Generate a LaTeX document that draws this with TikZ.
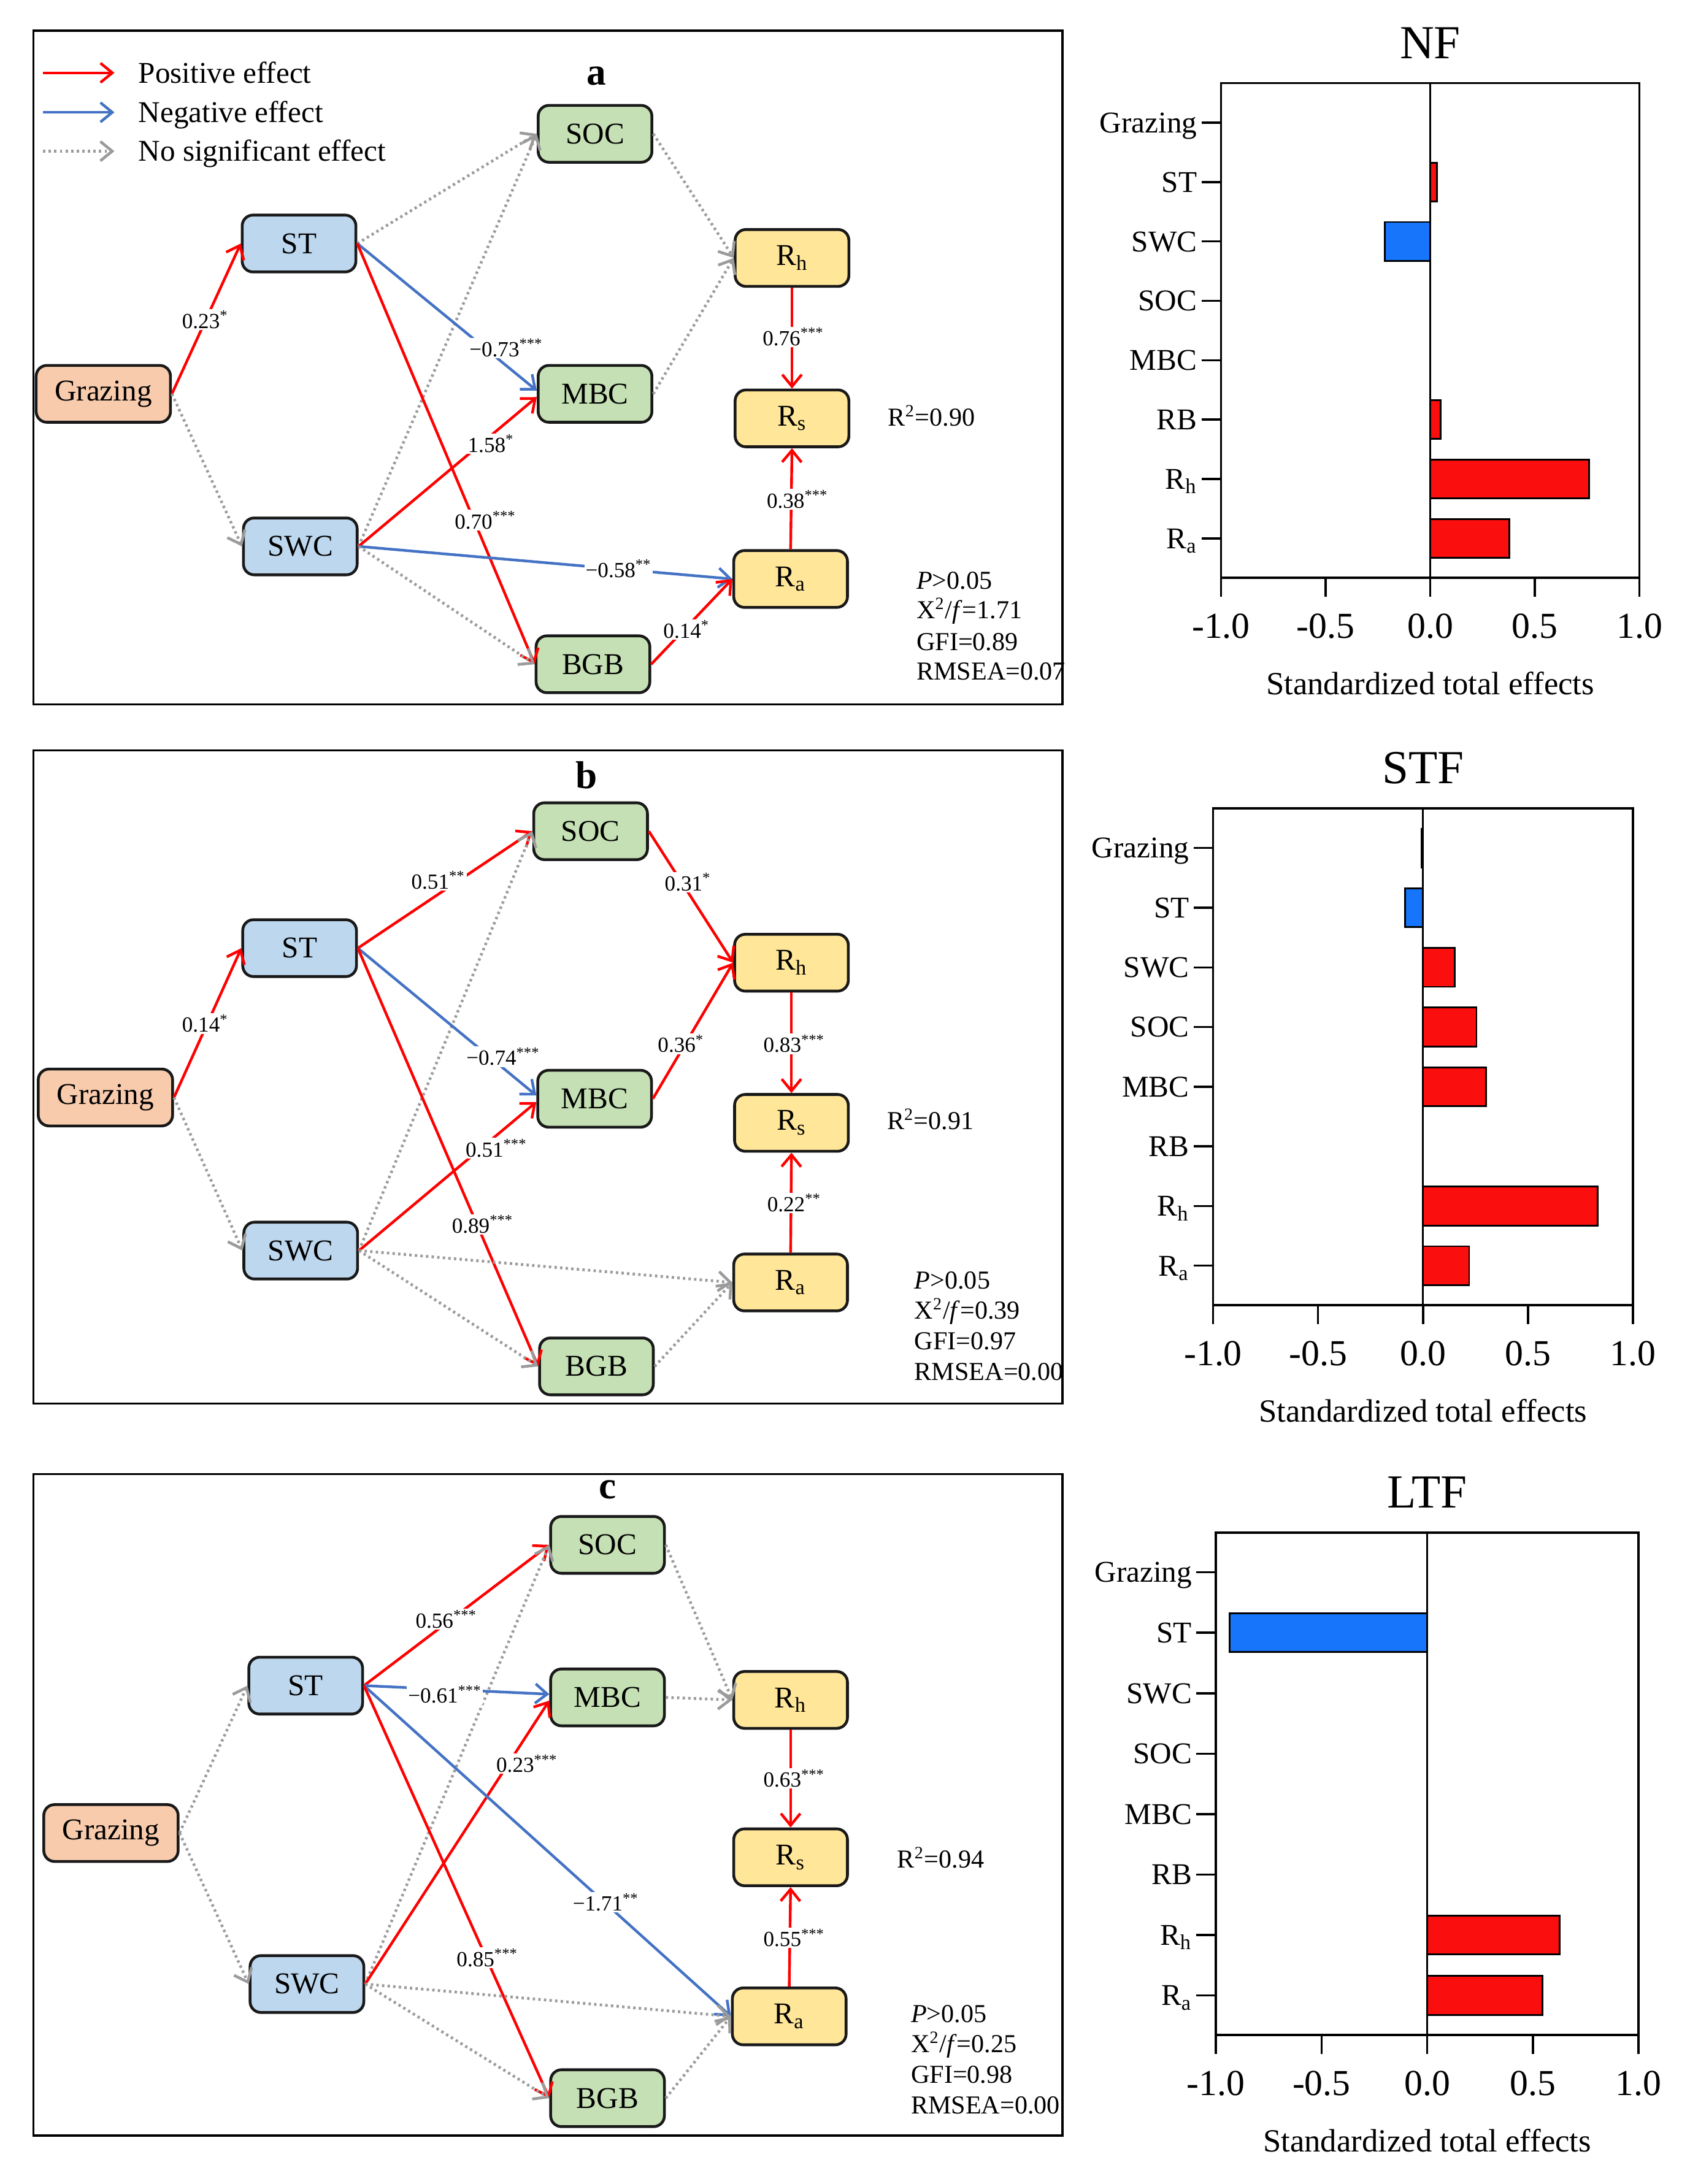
\documentclass[tikz,border=0pt]{standalone}
\usepackage{fontspec}
\setmainfont{Liberation Serif}
\usetikzlibrary{arrows.meta}
\definecolor{cgraz}{RGB}{248,203,173}
\definecolor{cblue}{RGB}{189,215,238}
\definecolor{cgreen}{RGB}{197,224,180}
\definecolor{cyell}{RGB}{255,230,153}
\definecolor{ared}{RGB}{255,0,0}
\definecolor{ablue}{RGB}{68,114,196}
\definecolor{agray}{RGB}{155,155,155}
\definecolor{barred}{RGB}{250,14,14}
\definecolor{barblue}{RGB}{22,117,250}
\newcommand\fsz[1]{\fontsize{#1}{#1}\selectfont}
\newcommand\sg[1]{\textsuperscript{#1}}
\tikzset{
  >={Straight Barb[length=5.5pt,width=9pt]},
  box/.style={draw=black!90, line width=1.3pt, rounded corners=5pt, minimum width=1.854cm, minimum height=0.927cm, inner sep=0pt, font=\fsz{14}},
  gzbox/.style={box, fill=cgraz, minimum width=2.19cm},
  blbox/.style={box, fill=cblue},
  grbox/.style={box, fill=cgreen},
  ylbox/.style={box, fill=cyell},
  posarr/.style={draw=ared, line width=1.25pt, ->},
  negarr/.style={draw=ablue, line width=1.25pt, ->},
  nsarr/.style={draw=agray, line width=1.3pt, dash pattern=on 1.1pt off 1.5pt, ->},
  elab/.style={fill=white, inner sep=0.6pt, font=\fsz{10}},
  statlab/.style={anchor=base west, font=\fsz{12}, inner sep=0pt, yshift=-0.14cm},
  plet/.style={font=\fsz{18}\bfseries, inner sep=0pt},
  frameln/.style={draw=black, line width=1pt},
  leglab/.style={anchor=base west, font=\fsz{14}, inner sep=0pt, yshift=-0.163cm},
  axisln/.style={draw=black, line width=1pt},
  zeroln/.style={draw=black, line width=0.8pt},
  barln/.style={draw=black, line width=0.8pt},
  catlab/.style={anchor=base east, font=\fsz{14}, inner sep=0pt, yshift=-0.163cm},
  ticklab/.style={font=\fsz{17}, inner sep=0pt},
  xlab/.style={font=\fsz{15}, inner sep=0pt},
  ctitle/.style={font=\fsz{22}, inner sep=0pt},
}
\newcommand\effchart[6]{%
  \pgfmathsetmacro\efL{#1}\pgfmathsetmacro\efR{#2}%
  \pgfmathsetmacro\efT{#3}\pgfmathsetmacro\efB{#4}%
  \pgfmathsetmacro\efZ{(\efL+\efR)/2}\pgfmathsetmacro\efS{(\efR-\efL)/2}%
  \pgfmathsetmacro\efD{(\efB-\efT-57)/7}%
  \foreach \v [count=\i from 0] in {#6} {
    \pgfmathsetmacro\yy{\efT+28.5+\i*\efD}
    \pgfmathsetmacro\xx{\efZ+\v*\efS}
    \ifdim\v pt<0pt \def\bc{barblue}\else\def\bc{barred}\fi
    \ifdim\v pt=0pt\else
      \draw[barln, fill=\bc] (\efZ,{\yy-14}) rectangle (\xx,{\yy+14});
    \fi
  }
  \draw[axisln] (\efL,\efT) rectangle (\efR,\efB);
  \draw[zeroln] (\efZ,\efT) -- (\efZ,\efB);
  \foreach \nm [count=\i from 0] in {Grazing,ST,SWC,SOC,MBC,RB,R\textsubscript{h},R\textsubscript{a}} {
    \pgfmathsetmacro\yy{\efT+28.5+\i*\efD}
    \draw[axisln] ({\efL-14},\yy) -- (\efL,\yy);
    \node[catlab] (#5cat\i) at ({\efL-17},\yy) {\nm};
  }
  \foreach \t/\lb [count=\i] in {-1/-1.0,-0.5/-0.5,0/0.0,0.5/0.5,1/1.0} {
    \draw[axisln] ({\efZ+\t*\efS},\efB) -- ({\efZ+\t*\efS},{\efB+13.7});
    \node[ticklab] (#5tick\i) at ({\efZ+\t*\efS},{\efB+35}) {\lb};
  }
  \node[ctitle] (#5title) at (\efZ,{\efT-29}) {#5};
  \node[xlab] (#5xlab) at (\efZ,{\efB+76}) {Standardized total effects};
}
\begin{document}
\begin{tikzpicture}[x=0.02261cm,y=-0.02261cm]
\useasboundingbox (0,0) rectangle (1218,1574.9);
\fill[white] (0,0) rectangle (1218,1574.9);

% ---------- frames
\draw[frameln] (24,22) rectangle (766,508);
\draw[frameln] (24,541) rectangle (766,1012);
\draw[frameln] (24,1063) rectangle (766,1540);

% ---------- legend
\coordinate (lg1a) at (31,52.5); \coordinate (lg1b) at (82.5,52.5);
\coordinate (lg2a) at (31,81);   \coordinate (lg2b) at (82.5,81);
\coordinate (lg3a) at (31,109);  \coordinate (lg3b) at (82.5,109);
\draw[posarr] (lg1a) -- (lg1b);
\draw[negarr] (lg2a) -- (lg2b);
\draw[nsarr] (lg3a) -- (lg3b);
\node[leglab] (lgt1) at (99.5,52.5) {Positive effect};
\node[leglab] (lgt2) at (99.5,81) {Negative effect};
\node[leglab] (lgt3) at (99.5,109) {No significant effect};

% ================= panel a
\node[plet] (aLet) at (430,55) {a};
\node[gzbox] (aG) at (74.5,284) {Grazing};
\node[blbox] (aST) at (215.6,175.6) {ST};
\node[blbox] (aSWC) at (216.5,394) {SWC};
\node[grbox] (aSOC) at (429,96.5) {SOC};
\node[grbox] (aMBC) at (429,284) {MBC};
\node[grbox] (aBGB) at (427.5,479) {BGB};
\node[ylbox] (aRh) at (571,186) {R\textsubscript{h}};
\node[ylbox] (aRs) at (571,301.7) {R\textsubscript{s}};
\node[ylbox] (aRa) at (570,417.5) {R\textsubscript{a}};
\draw[posarr] (aG.east) -- (aST.west);
\draw[nsarr] (aG.east) -- (aSWC.west);
\draw[nsarr] (aST.east) -- (aSOC.west);
\draw[nsarr] (aSWC.east) -- (aSOC.west);
\draw[negarr] (aST.east) -- ([yshift=1.5pt]aMBC.west);
\draw[posarr] (aSWC.east) -- ([yshift=-1.5pt]aMBC.west);
\draw[posarr] (aST.east) -- (aBGB.west);
\draw[negarr] (aSWC.east) -- (aRa.west);
\draw[nsarr] (aSWC.east) -- (aBGB.west);
\draw[nsarr] (aSOC.east) -- (aRh.west);
\draw[nsarr] (aMBC.east) -- (aRh.west);
\draw[posarr] (aRh.south) -- (aRs.north);
\draw[posarr] (aRa.north) -- (aRs.south);
\draw[posarr] (aBGB.east) -- (aRa.west);
\node[elab] (al1) at (148,230.5) {0.23\sg{*}};
\node[elab] (al2) at (365,251) {−0.73\sg{***}};
\node[elab] (al3) at (354,320) {1.58\sg{*}};
\node[elab] (al4) at (350,375) {0.70\sg{***}};
\node[elab] (al5) at (446,410) {−0.58\sg{**}};
\node[elab] (al6) at (495,454) {0.14\sg{*}};
\node[elab] (al7) at (572,243) {0.76\sg{***}};
\node[elab] (al8) at (575,360) {0.38\sg{***}};
\node[statlab] (aR2) at (640,301) {R\textsuperscript{2}=0.90};
\node[statlab] (as1) at (660.5,418.5) {\textit{P}>0.05};
\node[statlab] (as2) at (660.5,440) {X\textsuperscript{2}/\textit{f}=1.71};
\node[statlab] (as3) at (660.5,462.7) {GFI=0.89};
\node[statlab] (as4) at (660.5,484) {RMSEA=0.07};

% ================= panel b
\node[plet] (bLet) at (423,559) {b};
\node[gzbox] (bG) at (76,791.4) {Grazing};
\node[blbox] (bST) at (216,683.7) {ST};
\node[blbox] (bSWC) at (216.8,901.8) {SWC};
\node[grbox] (bSOC) at (425.8,599.4) {SOC};
\node[grbox] (bMBC) at (428.7,792.3) {MBC};
\node[grbox] (bBGB) at (430,985.3) {BGB};
\node[ylbox] (bRh) at (570.6,694.2) {R\textsubscript{h}};
\node[ylbox] (bRs) at (570.6,809.7) {R\textsubscript{s}};
\node[ylbox] (bRa) at (570,924.8) {R\textsubscript{a}};
\draw[posarr] (bG.east) -- (bST.west);
\draw[nsarr] (bG.east) -- (bSWC.west);
\draw[posarr] (bST.east) -- (bSOC.west);
\draw[nsarr] (bSWC.east) -- (bSOC.west);
\draw[negarr] (bST.east) -- ([yshift=1.5pt]bMBC.west);
\draw[posarr] (bSWC.east) -- ([yshift=-1.5pt]bMBC.west);
\draw[posarr] (bST.east) -- (bBGB.west);
\draw[nsarr] (bSWC.east) -- (bRa.west);
\draw[nsarr] (bSWC.east) -- (bBGB.west);
\draw[posarr] (bSOC.east) -- (bRh.west);
\draw[posarr] (bMBC.east) -- (bRh.west);
\draw[posarr] (bRh.south) -- (bRs.north);
\draw[posarr] (bRa.north) -- (bRs.south);
\draw[nsarr] (bBGB.east) -- (bRa.west);
\node[elab] (bl1) at (148,738) {0.14\sg{*}};
\node[elab] (bl2) at (316,634.7) {0.51\sg{**}};
\node[elab] (bl3) at (362.8,761.9) {−0.74\sg{***}};
\node[elab] (bl4) at (357.9,828) {0.51\sg{***}};
\node[elab] (bl5) at (348,882.9) {0.89\sg{***}};
\node[elab] (bl6) at (496,636.2) {0.31\sg{*}};
\node[elab] (bl7) at (491,752.6) {0.36\sg{*}};
\node[elab] (bl8) at (572.6,752.6) {0.83\sg{***}};
\node[elab] (bl9) at (572.6,867.4) {0.22\sg{**}};
\node[statlab] (bR2) at (639.2,808.4) {R\textsuperscript{2}=0.91};
\node[statlab] (bs1) at (659,923) {\textit{P}>0.05};
\node[statlab] (bs2) at (659,945) {X\textsuperscript{2}/\textit{f}=0.39};
\node[statlab] (bs3) at (659,967) {GFI=0.97};
\node[statlab] (bs4) at (659,989) {RMSEA=0.00};

% ================= panel c
\node[plet] (cLet) at (438,1074) {c};
\node[gzbox] (cG) at (80,1321.8) {Grazing};
\node[blbox] (cST) at (220.4,1215.5) {ST};
\node[blbox] (cSWC) at (221.3,1430.7) {SWC};
\node[grbox] (cSOC) at (438,1114) {SOC};
\node[grbox] (cMBC) at (438,1224) {MBC};
\node[grbox] (cBGB) at (438,1513) {BGB};
\node[ylbox] (cRh) at (570,1225.8) {R\textsubscript{h}};
\node[ylbox] (cRs) at (570,1339.3) {R\textsubscript{s}};
\node[ylbox] (cRa) at (569,1454) {R\textsubscript{a}};
\draw[nsarr] (cG.east) -- (cST.west);
\draw[nsarr] (cG.east) -- (cSWC.west);
\draw[posarr] (cST.east) -- (cSOC.west);
\draw[nsarr] (cSWC.east) -- (cSOC.west);
\draw[negarr] (cST.east) -- ([yshift=1.5pt]cMBC.west);
\draw[posarr] (cSWC.east) -- ([yshift=-1.5pt]cMBC.west);
\draw[negarr] (cST.east) -- (cRa.west);
\draw[posarr] (cST.east) -- (cBGB.west);
\draw[nsarr] (cSWC.east) -- (cRa.west);
\draw[nsarr] (cSWC.east) -- (cBGB.west);
\draw[nsarr] (cSOC.east) -- (cRh.west);
\draw[nsarr] (cMBC.east) -- (cRh.west);
\draw[nsarr] (cBGB.east) -- (cRa.west);
\draw[posarr] (cRh.south) -- (cRs.north);
\draw[posarr] (cRa.north) -- (cRs.south);
\node[elab] (cl1) at (321.8,1167.5) {0.56\sg{***}};
\node[elab] (cl2) at (320.8,1221.8) {−0.61\sg{***}};
\node[elab] (cl3) at (380,1271.8) {0.23\sg{***}};
\node[elab] (cl4) at (436.8,1371.7) {−1.71\sg{**}};
\node[elab] (cl5) at (351.4,1411.7) {0.85\sg{***}};
\node[elab] (cl6) at (572.6,1282.4) {0.63\sg{***}};
\node[elab] (cl7) at (572.6,1397.4) {0.55\sg{***}};
\node[statlab] (cR2) at (646.6,1340.7) {R\textsuperscript{2}=0.94};
\node[statlab] (cs1) at (656.5,1452) {\textit{P}>0.05};
\node[statlab] (cs2) at (656.5,1474) {X\textsuperscript{2}/\textit{f}=0.25};
\node[statlab] (cs3) at (656.5,1496) {GFI=0.98};
\node[statlab] (cs4) at (656.5,1518) {RMSEA=0.00};

% ================= bar charts
\effchart{880.3}{1182}{60}{416.7}{NF}{0,0.033,-0.216,0,0,0.049,0.758,0.378}
\effchart{874.6}{1177.3}{583}{941.2}{STF}{-0.006,-0.085,0.151,0.255,0.299,0,0.831,0.22}
\effchart{876.6}{1181.3}{1105.3}{1467.4}{LTF}{0,-0.935,0,0,0,0,0.626,0.546}
\end{tikzpicture}
\end{document}
